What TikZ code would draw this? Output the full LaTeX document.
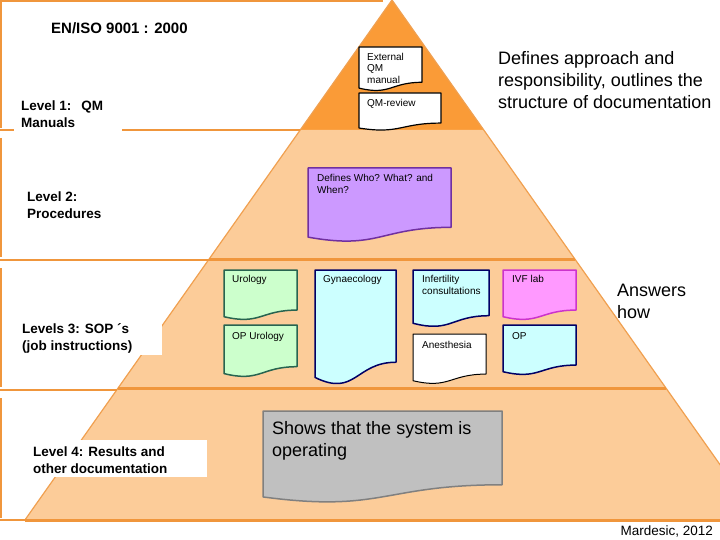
\documentclass[tikz,border=0pt]{standalone}
\usepackage{fontspec}
\setmainfont{Liberation Sans}
\definecolor{LevelOne}{RGB}{250,155,55}
\definecolor{Peach}{RGB}{252,204,153}
\definecolor{SepOrange}{RGB}{240,150,60}
\definecolor{EdgeOrange}{RGB}{240,160,80}
\definecolor{Lavender}{RGB}{204,153,255}
\definecolor{PurpleLine}{RGB}{112,48,160}
\definecolor{MintFill}{RGB}{204,255,204}
\definecolor{GreenLine}{RGB}{40,100,80}
\definecolor{IceFill}{RGB}{204,255,255}
\definecolor{NavyLine}{RGB}{0,0,102}
\definecolor{PinkFill}{RGB}{255,153,255}
\definecolor{MagentaLine}{RGB}{204,51,204}
\definecolor{GrayFill}{RGB}{192,192,192}
\definecolor{GrayLine}{RGB}{128,128,128}
\newcommand{\docsheet}[5]{%
  \draw[#1] (#2,#3) -- (#2+#4,#3) -- (#2+#4,#3+0.802*#5)
    .. controls (#2+0.5*#4,#3+0.802*#5) and (#2+0.5*#4,#3+1.108*#5) .. (#2,#3+0.934*#5) -- cycle;}

\begin{document}
\begin{tikzpicture}[x=1pt,y=-1pt,
    lvl/.style={font=\bfseries\fontsize{13.5}{17}\selectfont,align=left,anchor=north west,inner sep=0pt},
    small/.style={font=\fontsize{10}{12}\selectfont,align=left,anchor=north west,inner sep=0pt},
    big/.style={font=\fontsize{18}{22}\selectfont,align=left,anchor=north west,inner sep=0pt},
    sep/.style={draw=SepOrange,line width=3pt},
    bracket/.style={draw=SepOrange,line width=2pt},
    sheet/.style={line width=1.5pt,line join=round}]
      \useasboundingbox (0,0) rectangle (720,540);
      \begin{scope}
        \clip (0,0) rectangle (720,540);
        \fill[LevelOne] (392,0) -- (300.2,130) -- (483.8,130) -- cycle;
        \fill[Peach] (300.2,130) -- (24.9,520) -- (759.1,520) -- (483.8,130) -- cycle;
        \draw[EdgeOrange,line width=1.2pt] (24.9,520) -- (392,0) -- (759.1,520);
        \draw[sep] (209.1,259) -- (574.9,259);
        \draw[sep] (118.1,388) -- (665.9,388);
        \draw[sep] (24.9,520) -- (759.1,520);
      \end{scope}
      \draw[bracket] (0,1) -- (383,1);
      \foreach \t/\b in {1/128,138/257,268/387,398/518}
        \draw[bracket] (1,\t) -- (1,\b);
      \foreach \y/\x in {130/300,260/209,390/117,520/25}
        \draw[bracket] (0,\y) -- (\x,\y);
      \fill[white] (14,96) rectangle (122,136);
      \fill[white] (14,316) rectangle (162,355);
      \fill[white] (27,440) rectangle (207,477);
      \docsheet{sheet,fill=white,draw=black,line width=1.2pt}{359}{47}{63}{44}
      \docsheet{sheet,fill=white,draw=black,line width=1.2pt}{359}{93}{82}{37.5}
      \docsheet{sheet,fill=Lavender,draw=PurpleLine}{308}{168}{143}{74}
      \docsheet{sheet,fill=MintFill,draw=GreenLine}{224}{270}{73}{50}
      \docsheet{sheet,fill=MintFill,draw=GreenLine}{224}{325}{73}{52}
      \docsheet{sheet,fill=IceFill,draw=NavyLine}{315}{270}{81}{115}
      \docsheet{sheet,fill=IceFill,draw=NavyLine}{413}{270}{76}{57}
      \docsheet{sheet,fill=white,draw=black,line width=1pt}{413}{334}{73}{50}
      \docsheet{sheet,fill=PinkFill,draw=MagentaLine}{503}{270}{73}{50}
      \docsheet{sheet,fill=IceFill,draw=NavyLine}{503}{325}{73}{50}
      \docsheet{sheet,fill=GrayFill,draw=GrayLine}{263}{411}{239}{92}
      \node[lvl,font=\bfseries\fontsize{15}{18}\selectfont] (isoTitle) at (51,22.5) {EN/ISO 9001 : 2000};
      \node[lvl] (levelOne) at (21,101) {Level 1:\hspace{10pt}QM\\Manuals};
      \node[lvl] (levelTwo) at (27,192) {Level 2:\\Procedures};
      \node[lvl] (levelThree) at (22,323) {Levels 3: SOP ´s\\(job instructions)};
      \node[lvl] (levelFour) at (33,447) {Level 4: Results and\\other documentation};
      \node[small,font=\fontsize{10}{11.5}\selectfont] (extManual) at (367,53) {External\\QM\\manual};
      \node[small] (qmReview) at (367,99) {QM-review};
      \node[small] (definesWho) at (317,174) {Defines Who? What? and\\When?};
      \node[small] (urology) at (232,275) {Urology};
      \node[small] (opUrology) at (232,332) {OP Urology};
      \node[small] (gynaecology) at (323,275) {Gynaecology};
      \node[small,font=\fontsize{10}{12.5}\selectfont] (infertility) at (422,275) {Infertility\\consultations};
      \node[small] (anesthesia) at (422,341) {Anesthesia};
      \node[small] (ivfLab) at (512,275) {IVF lab};
      \node[small] (opSheet) at (512,332) {OP};
      \node[big] (approach) at (498,51) {Defines approach and\\responsibility, outlines the\\structure of documentation};
      \node[big] (answers) at (617,284) {Answers\\how};
      \node[big] (showsSystem) at (272,421) {Shows that the system is\\operating};
      \node[anchor=base east,font=\fontsize{13.5}{16}\selectfont,inner sep=0pt] (mardesic) at (713,535) {Mardesic, 2012};
    \end{tikzpicture}
\end{document}
